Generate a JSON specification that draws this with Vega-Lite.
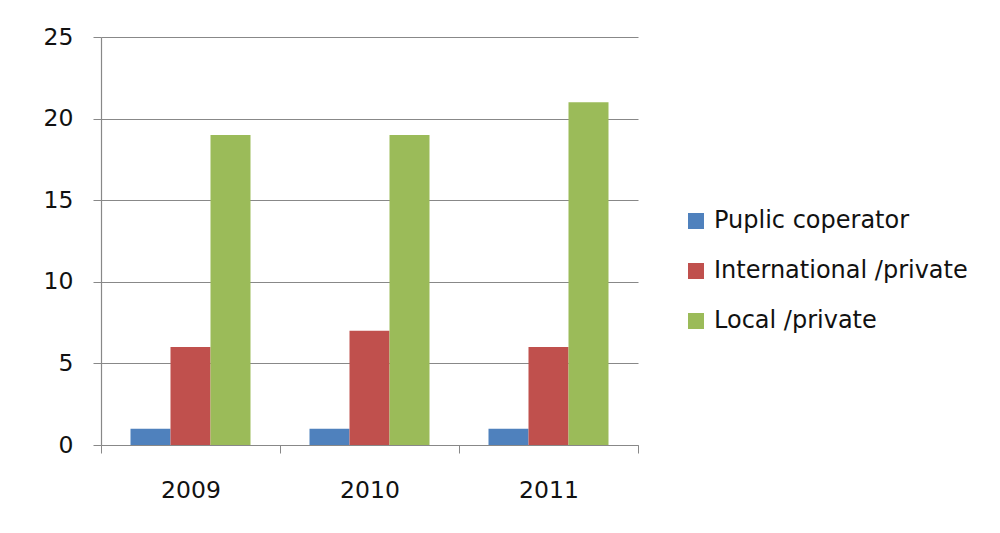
{
  "$schema": "https://vega.github.io/schema/vega-lite/v6.json",
  "autosize": "none",
  "width": 537,
  "height": 408,
  "padding": {"left": 101, "top": 37, "right": 362, "bottom": 88},
  "background": "white",
  "config": {
    "font": "DejaVu Sans",
    "view": {"stroke": null},
    "axis": {"labelFont": "DejaVu Sans", "labelColor": "#111111", "domainColor": "#888888", "tickColor": "#888888", "gridColor": "#888888"}
  },
  "data": {
    "values": [
      {"year": "2009", "series": "Puplic coperator", "value": 1},
      {"year": "2009", "series": "International /private", "value": 6},
      {"year": "2009", "series": "Local /private", "value": 19},
      {"year": "2010", "series": "Puplic coperator", "value": 1},
      {"year": "2010", "series": "International /private", "value": 7},
      {"year": "2010", "series": "Local /private", "value": 19},
      {"year": "2011", "series": "Puplic coperator", "value": 1},
      {"year": "2011", "series": "International /private", "value": 6},
      {"year": "2011", "series": "Local /private", "value": 21}
    ]
  },
  "mark": {"type": "bar"},
  "encoding": {
    "x": {
      "field": "year", "type": "nominal", "title": null,
      "scale": {"paddingInner": 0, "paddingOuter": 0},
      "axis": {"labelAngle": 0, "labelFontSize": 23.5, "labelPadding": 25, "tickBand": "extent", "tickSize": 8, "domainWidth": 1.2}
    },
    "xOffset": {"field": "series", "sort": ["Puplic coperator", "International /private", "Local /private"], "scale": {"paddingInner": 0, "paddingOuter": 0.7375}},
    "y": {
      "field": "value", "type": "quantitative", "title": null,
      "scale": {"domain": [0, 25]},
      "axis": {"values": [0, 5, 10, 15, 20, 25], "labelFontSize": 23.5, "labelPadding": 20, "tickSize": 8, "grid": true, "domainWidth": 1.2}
    },
    "color": {
      "field": "series", "type": "nominal",
      "sort": ["Puplic coperator", "International /private", "Local /private"],
      "scale": {"domain": ["Puplic coperator", "International /private", "Local /private"], "range": ["#4F81BD", "#C0504D", "#9BBB59"]},
      "legend": {
        "title": null, "orient": "none", "legendX": 583, "legendY": 172,
        "symbolType": "square", "symbolSize": 256, "symbolStrokeWidth": 0,
        "labelFontSize": 24, "labelColor": "#111111", "labelFont": "DejaVu Sans",
        "rowPadding": 26, "labelOffset": 6, "labelLimit": 400
      }
    }
  }
}
